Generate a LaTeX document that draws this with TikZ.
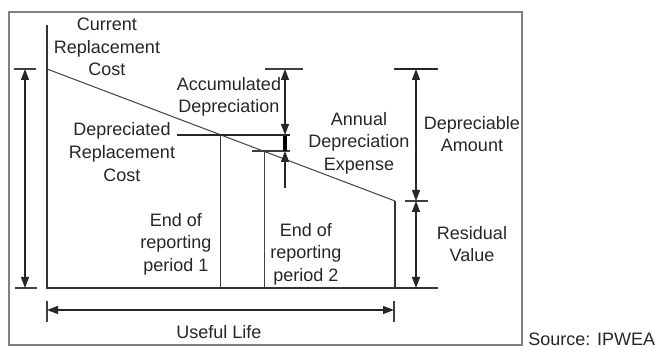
\documentclass[tikz,border=0pt]{standalone}
\usepackage{fontspec}
\setmainfont{Liberation Sans}
\usetikzlibrary{positioning,arrows.meta}
\tikzset{
  dimarrow/.style={{Triangle[length=5.5pt,width=4pt]}-{Triangle[length=5.5pt,width=4pt]}, line width=0.6pt, black!85},
  uparrow/.style={-{Triangle[length=5.5pt,width=4pt]}, line width=0.6pt, black!85},
  tickline/.style={line width=0.6pt, black!75},
  axisline/.style={line width=0.9pt, black!80},
  thinline/.style={line width=0.5pt, black!75},
  heavyline/.style={line width=1.1pt, black!85},
  lbl/.style={font=\fontsize{9}{11.3}\selectfont, align=center, inner sep=1pt, text=black!85}
}

\begin{document}
\begin{tikzpicture}[x=0.5pt,y=-0.5pt]
  \useasboundingbox (0,0) rectangle (655,347);
  \draw[black!50, line width=0.6pt] (9,12) rectangle (522,345);
  % value line and axes
  \coordinate (top) at (47,25);
  \coordinate (origin) at (47,288);
  \coordinate (baseend) at (438,288);
  \coordinate (crc) at (47,69);
  \coordinate (rv) at (395,201);
  \coordinate (rvfoot) at (395,288);
  \draw[axisline] (top) -- (origin) -- (baseend);
  \draw[thinline] (crc) -- (rv);
  \draw[axisline] (rv) -- (rvfoot);
  % reporting periods
  \coordinate (p1) at (220,135);
  \coordinate (p1foot) at (220,288);
  \coordinate (p2) at (264,151);
  \coordinate (p2foot) at (264,288);
  \draw[thinline] (p1) -- (p1foot);
  \draw[thinline] (p2) -- (p2foot);
  % left cost arrow
  \coordinate (lt) at (25,69);
  \coordinate (lb) at (25,288);
  \draw[tickline] (14,69) -- (36,69);
  \draw[tickline] (15,288) -- (37,288);
  \draw[dimarrow] (lt) -- (lb);
  % accumulated and annual depreciation
  \coordinate (adtop) at (285,69);
  \coordinate (adbot) at (285,135);
  \coordinate (aebot) at (285,151);
  \coordinate (aefoot) at (285,188);
  \draw[tickline] (265,69) -- (303,69);
  \draw[tickline] (252,151) -- (290,151);
  \draw[dimarrow] (adtop) -- (adbot);
  \draw[line width=2.4pt] (adbot) -- (aebot);
  \draw[uparrow] (aefoot) -- (aebot);
  % depreciable amount and residual value
  \coordinate (datop) at (416,69);
  \coordinate (damid) at (416,201);
  \coordinate (dabot) at (416,288);
  \draw[heavyline] (394,69) -- (438,69);
  \draw[tickline] (405,201) -- (428,201);
  \draw[dimarrow] (datop) -- (damid);
  \draw[dimarrow] (damid) -- (dabot);
  % useful life
  \coordinate (ulleft) at (47,310);
  \coordinate (ulright) at (394,310);
  \draw[tickline] (47,301) -- (47,322);
  \draw[tickline] (394,301) -- (394,322);
  \draw[dimarrow] (ulleft) -- (ulright);
  % labels
  \node[lbl] (crclabel) at (107,47) {Current\\Replacement\\Cost};
  \node[lbl] (adlabel) at (229,97) {Accumulated\\Depreciation};
  \node[lbl] (drclabel) at (122,152) {Depreciated\\Replacement\\Cost};
  \coordinate (drcstart) at (177,135);
  \coordinate (drcend) at (290,135);
  \draw[heavyline] (drcstart) -- (drcend);
  \node[lbl] (aelabel) at (359,143) {Annual\\Depreciation\\Expense};
  \node[lbl] (dalabel) at (472,134) {Depreciable\\Amount};
  \node[lbl] (rvlabel) at (472,244) {Residual\\Value};
  \node[lbl] (p1label) at (176,244) {End of\\reporting\\period 1};
  \node[lbl] (p2label) at (306,254) {End of\\reporting\\period 2};
  \node[lbl] (ullabel) at (219,332) {Useful Life};
  \node[lbl, anchor=west] (source) at (526,339) {Source: IPWEA};
\end{tikzpicture}
\end{document}
